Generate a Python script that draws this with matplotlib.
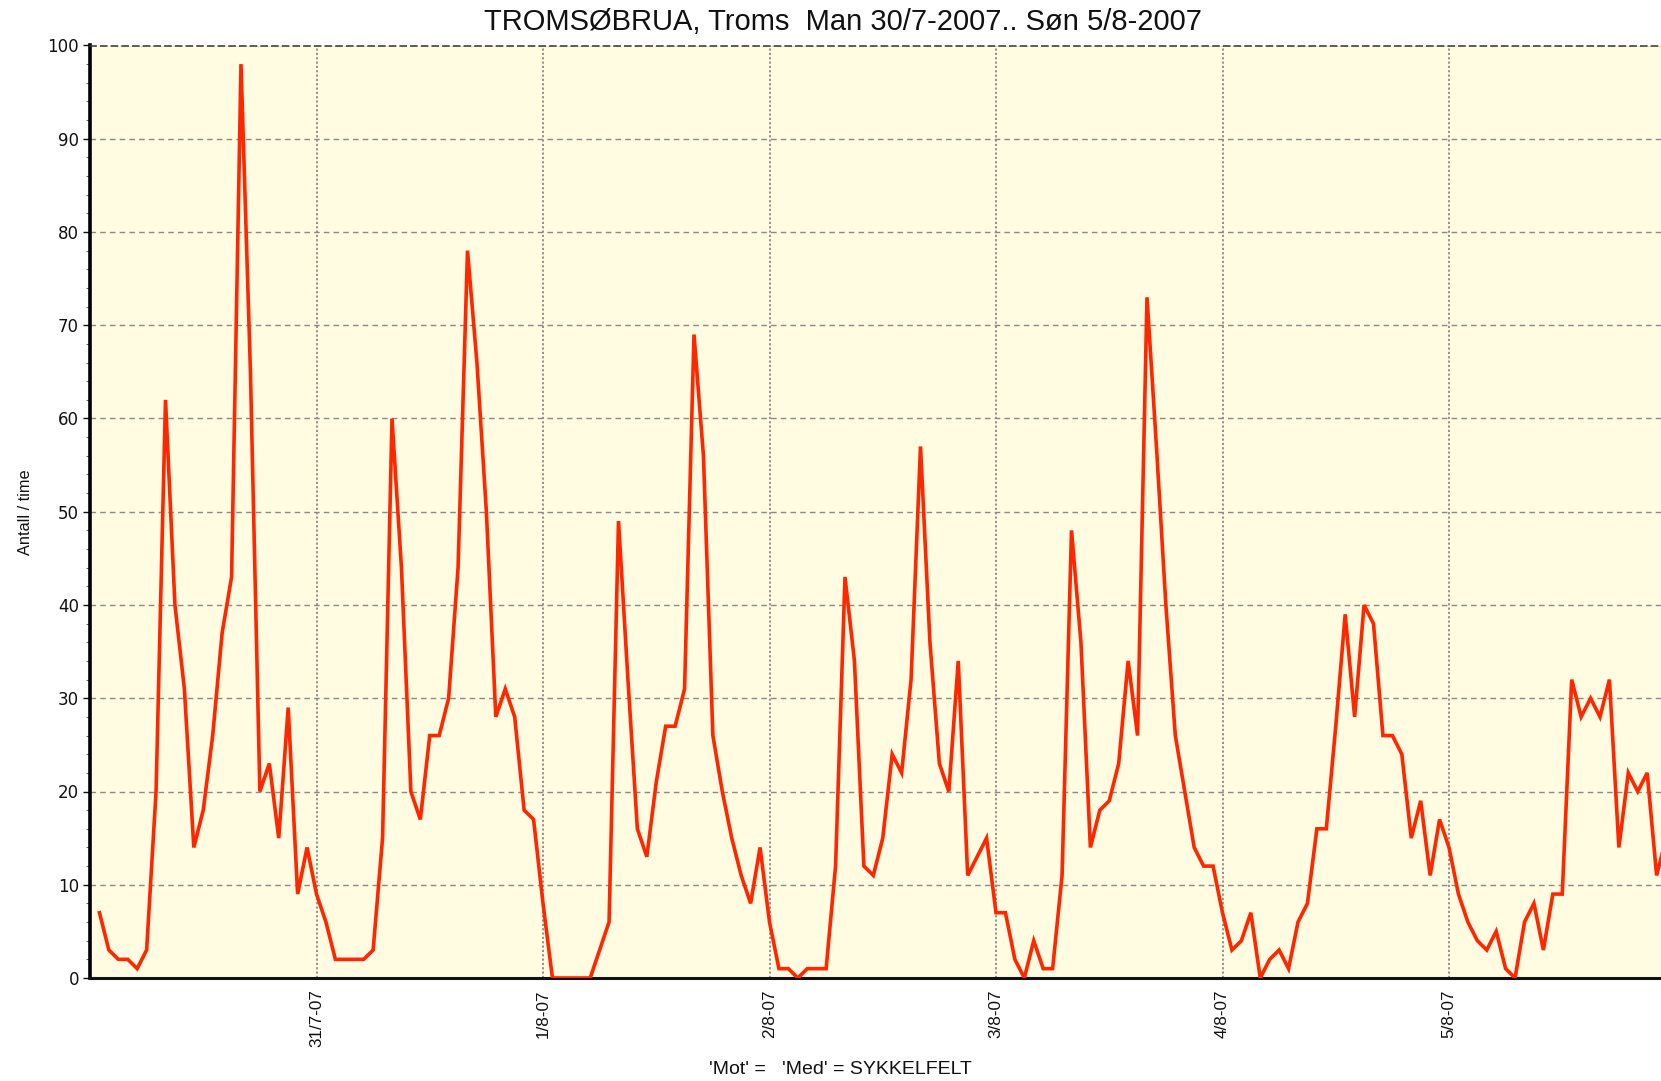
import matplotlib
matplotlib.use("Agg")
import matplotlib.pyplot as plt
import numpy as np
from matplotlib.ticker import MultipleLocator

# ---- data: hourly counts (hour ending 01..24) per day ----
day_30_7 = [7, 3, 2, 2, 1, 3, 20, 62, 40, 31, 14, 18, 26, 37, 43, 98, 65, 20, 23, 15, 29, 9, 14, 9]
day_31_7 = [6, 2, 2, 2, 2, 3, 15, 60, 44, 20, 17, 26, 26, 30, 44, 78, 66, 50, 28, 31, 28, 18, 17, 8]
day_1_8 = [0, 0, 0, 0, 0, 3, 6, 49, 32, 16, 13, 21, 27, 27, 31, 69, 56, 26, 20, 15, 11, 8, 14, 6]
day_2_8 = [1, 1, 0, 1, 1, 1, 12, 43, 34, 12, 11, 15, 24, 22, 32, 57, 36, 23, 20, 34, 11, 13, 15, 7]
day_3_8 = [7, 2, 0, 4, 1, 1, 11, 48, 36, 14, 18, 19, 23, 34, 26, 73, 57, 40, 26, 20, 14, 12, 12, 7]
day_4_8 = [3, 4, 7, 0, 2, 3, 1, 6, 8, 16, 16, 27, 39, 28, 40, 38, 26, 26, 24, 15, 19, 11, 17, 14]
day_5_8 = [9, 6, 4, 3, 5, 1, 0, 6, 8, 3, 9, 9, 32, 28, 30, 28, 32, 14, 22, 20, 22, 11, 15, 12]

day_tick_labels = ["31/7-07", "1/8-07", "2/8-07", "3/8-07", "4/8-07", "5/8-07"]
y_ticks = [0, 10, 20, 30, 40, 50, 60, 70, 80, 90, 100]

title = "TROMSØBRUA, Troms  Man 30/7-2007.. Søn 5/8-2007"
ylabel = "Antall / time"
xlabel = "'Mot' =   'Med' = SYKKELFELT"

values = day_30_7 + day_31_7 + day_1_8 + day_2_8 + day_3_8 + day_4_8 + day_5_8
hours = np.arange(1, len(values) + 1)

plt.rcParams['font.family'] = ['Liberation Sans', 'DejaVu Sans']

W, H = 1661, 1081
fig = plt.figure(figsize=(W / 100, H / 100), dpi=100)
fig.patch.set_facecolor("white")

left_px, right_px, top_px, bot_px = 90, 1675.5, 45.5, 978
ax = fig.add_axes([left_px / W, 1 - bot_px / H, (right_px - left_px) / W, (bot_px - top_px) / H])
ax.set_facecolor("#fffce1")

ax.plot(hours, values, color="#ff2600", linewidth=2.6, solid_joinstyle="miter", zorder=3)

ax.set_xlim(0, 168)
ax.set_ylim(0, 100)

ax.set_yticks(y_ticks)
ax.yaxis.set_minor_locator(MultipleLocator(2))
ax.set_xticks([24 * (i + 1) for i in range(len(day_tick_labels))])
ax.set_xticklabels(day_tick_labels, rotation=90, fontsize=12.3, color="#111111")
ax.tick_params(axis="x", length=0, pad=8)
ax.tick_params(axis="y", which="major", length=5, width=1, labelsize=12, pad=3, colors="#111111")
ax.tick_params(axis="y", which="minor", length=3, width=0.8, colors="#666666")
for lab in ax.get_yticklabels():
    lab.set_fontfamily(['DejaVu Sans'])

ax.yaxis.grid(True, which="major", linestyle=(0, (4, 3)), color="#8a8a8a", linewidth=1.0, zorder=1)
ax.xaxis.grid(True, which="major", linestyle=(0, (1.2, 1.2)), color="#8a8a8a", linewidth=1.3, zorder=1)

ax.spines["right"].set_visible(False)
ax.spines["left"].set_linewidth(2.6)
ax.spines["left"].set_color("black")
ax.spines["bottom"].set_linewidth(2.2)
ax.spines["bottom"].set_color("#111111")
ax.spines["top"].set_linewidth(1.1)
ax.spines["top"].set_color("#333333")
ax.spines["top"].set_linestyle((0, (4, 3)))

fig.text(843 / W, 1 - 22 / H, title, ha="center", va="center", fontsize=21, color="#111111")
fig.text(26 / W, 1 - 512 / H, ylabel, ha="center", va="center", rotation=90, fontsize=11.8, color="#111111")
fig.text(840 / W, 1 - 1070 / H, xlabel, ha="center", va="center", fontsize=14, color="#111111")

fig.savefig("out.png", dpi=100, facecolor="white")
